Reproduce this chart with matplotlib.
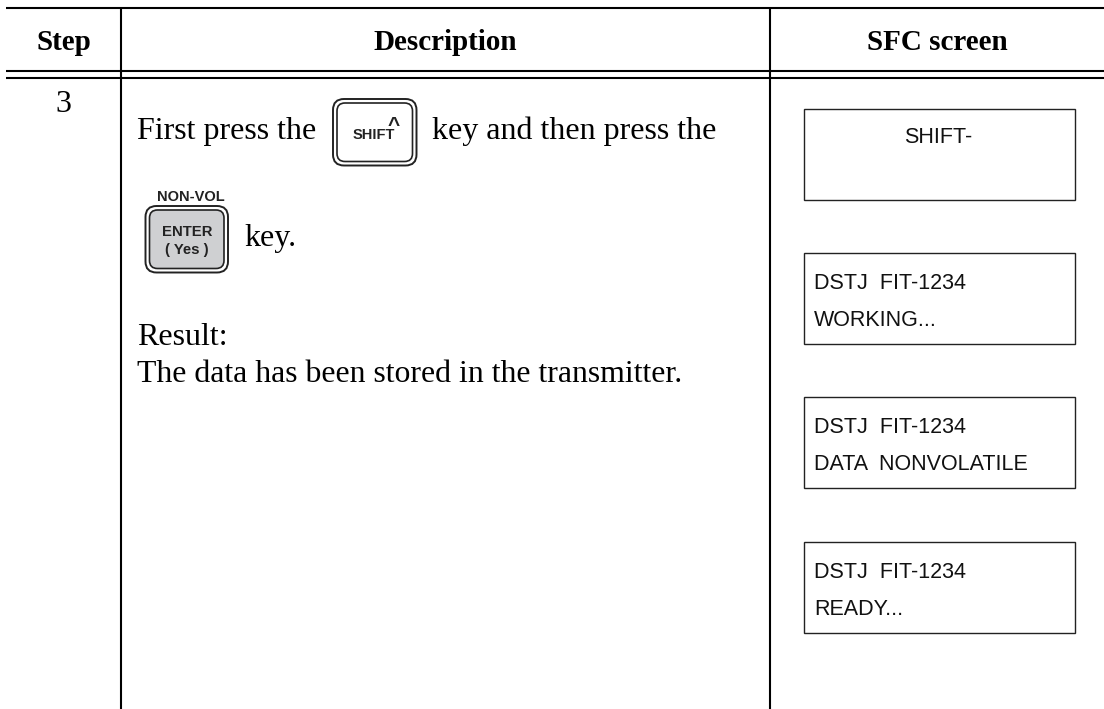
import matplotlib
matplotlib.use("Agg")
import matplotlib.pyplot as plt
from matplotlib.patches import FancyBboxPatch, Rectangle

headers = ["Step", "Description", "SFC screen"]
step = "3"
line1 = ["First press the", "key and then press the"]
line2 = "key."
result_lines = ["Result:", "The data has been stored in the transmitter."]
screens = [
    ["SHIFT-"],
    ["DSTJ  FIT-1234", "WORKING..."],
    ["DSTJ  FIT-1234", "DATA  NONVOLATILE"],
    ["DSTJ  FIT-1234", "READY..."],
]
key_labels = ["SHIFT", "^", "NON-VOL", "ENTER", "( Yes )"]

W, H = 1104, 709
serif = "Liberation Serif"
sans = "Liberation Sans"
ink = "#222222"

fig = plt.figure(figsize=(W / 100, H / 100), dpi=100)
ax = fig.add_axes([0, 0, 1, 1])
ax.set_xlim(0, W)
ax.set_ylim(H, 0)
ax.axis("off")

# table rules
for y in [7.5, 70.7, 77.7]:
    ax.plot([6, W], [y, y], color="black", lw=1.5, solid_capstyle="butt")
for x in [121, 770]:
    ax.plot([x, x], [7.5, H], color="black", lw=1.5, solid_capstyle="butt")

for x, s in zip([63.5, 445, 937], headers):
    ax.text(x, 49.5, s, family=serif, weight="bold", fontsize=21, ha="center", va="baseline")

ax.text(63.5, 112, step, family=serif, fontsize=23, ha="center", va="baseline")
ax.text(137, 139.5, line1[0], family=serif, fontsize=23, va="baseline")
ax.text(432, 139.5, line1[1], family=serif, fontsize=23, va="baseline")
ax.text(244, 246, line2, family=serif, fontsize=23, va="baseline")
ax.text(137, 345, result_lines[0], family=serif, fontsize=23, va="baseline")
ax.text(137, 381.7, result_lines[1], family=serif, fontsize=22.9, va="baseline")


def key(x0, y0, w, h, face):
    ax.add_patch(FancyBboxPatch((x0, y0), w, h, boxstyle="round,pad=0,rounding_size=11",
                                fc="white", ec=ink, lw=1.4))
    ax.add_patch(FancyBboxPatch((x0 + 4, y0 + 4), w - 8, h - 8, boxstyle="round,pad=0,rounding_size=8",
                                fc=face, ec=ink, lw=1.2))


# SHIFT key
key(333, 99, 83.5, 66.5, "white")
ax.text(374, 139, key_labels[0], family=sans, weight="bold", fontsize=10.5, ha="center", va="baseline", color=ink)
ax.text(394, 131, key_labels[1], family=sans, weight="bold", fontsize=15, ha="center", va="baseline", color=ink)

# ENTER key
key(145.5, 206, 82.5, 66.5, "#cfd0d2")
ax.text(191, 201, key_labels[2], family=sans, weight="bold", fontsize=10.5, ha="center", va="baseline", color=ink)
ax.text(187.5, 236.5, key_labels[3], family=sans, weight="bold", fontsize=10.7, ha="center", va="baseline", color=ink)
ax.text(187, 254, key_labels[4], family=sans, weight="bold", fontsize=10.7, ha="center", va="baseline", color=ink)

# SFC screens
box_y = [109, 253, 397, 541.5]
for y, lines in zip(box_y, screens):
    ax.add_patch(Rectangle((804, y), 271, 91, fc="white", ec=ink, lw=1))
    if len(lines) == 1:
        ax.text(938, y + 34, lines[0], family=sans, fontsize=15.5, ha="center", va="baseline", color="#111111")
    else:
        ax.text(814, y + 36.3, lines[0], family=sans, fontsize=15.5, va="baseline", color="#111111")
        ax.text(814, y + 73.5, lines[1], family=sans, fontsize=15.5, va="baseline", color="#111111")

fig.savefig("out.png", dpi=100)
